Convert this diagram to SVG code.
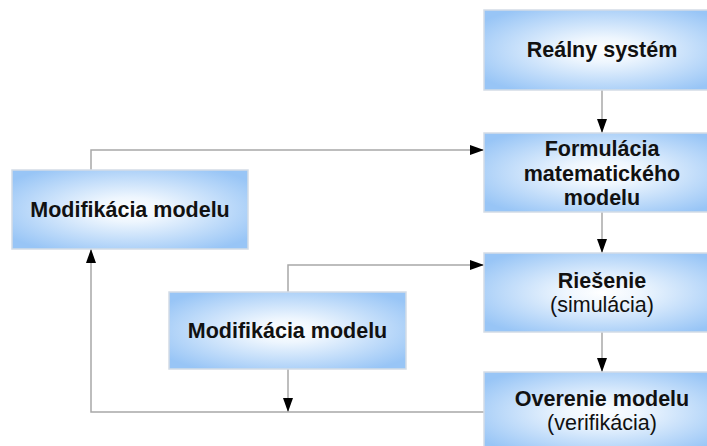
<svg xmlns="http://www.w3.org/2000/svg" width="707" height="446" viewBox="0 0 707 446">
<defs>
<radialGradient id="g" cx="50%" cy="50%" r="62%">
<stop offset="0" stop-color="#ffffff"/>
<stop offset="0.25" stop-color="#eef6fe"/>
<stop offset="1" stop-color="#98c5f6"/>
</radialGradient>
<marker id="ah" markerWidth="14" markerHeight="10" refX="14" refY="5" viewBox="0 0 14 10" markerUnits="userSpaceOnUse" orient="auto">
<path d="M0,0 L14,5 L0,10 Z" fill="#000"/>
</marker>
</defs>
<style>
.box{fill:url(#g);stroke:#d3dce6;stroke-width:1.5}
.c{fill:none;stroke:#a8a8a8;stroke-width:1.5}
.t{font-family:"Liberation Sans",Arial,sans-serif;font-size:21.5px;text-anchor:middle;fill:#111}
.b{font-weight:bold}
</style>
<rect width="707" height="446" fill="#fff"/>
<g id="connectors">
<path class="c" d="M602,90 V133" marker-end="url(#ah)"/>
<path class="c" d="M602,212 V253" marker-end="url(#ah)"/>
<path class="c" d="M602,332 V372" marker-end="url(#ah)"/>
<path class="c" d="M91,170 V150 H484" marker-end="url(#ah)"/>
<path class="c" d="M288,292 V265 H484" marker-end="url(#ah)"/>
<path class="c" d="M288,369 V412" marker-end="url(#ah)"/>
<path class="c" d="M484,412 H91 V249" marker-end="url(#ah)"/>
</g>
<g id="realny">
<rect class="box" x="484" y="10" width="238" height="80"/>
<text class="t b" x="602" y="57">Reálny systém</text>
</g>
<g id="formulacia">
<rect class="box" x="484" y="133" width="238" height="79"/>
<text class="t b" x="602" y="156">Formulácia</text>
<text class="t b" x="602" y="180.5">matematického</text>
<text class="t b" x="602" y="205">modelu</text>
</g>
<g id="riesenie">
<rect class="box" x="484" y="253" width="238" height="79"/>
<text class="t b" x="602" y="288">Riešenie</text>
<text class="t" x="602" y="312">(simulácia)</text>
</g>
<g id="overenie">
<rect class="box" x="484" y="372" width="238" height="80"/>
<text class="t b" x="602" y="406">Overenie modelu</text>
<text class="t" x="602" y="430">(verifikácia)</text>
</g>
<g id="modifikacia1">
<rect class="box" x="12" y="170" width="236" height="79"/>
<text class="t b" x="130" y="217">Modifikácia modelu</text>
</g>
<g id="modifikacia2">
<rect class="box" x="169" y="292" width="237" height="77"/>
<text class="t b" x="287.5" y="338">Modifikácia modelu</text>
</g>
</svg>
